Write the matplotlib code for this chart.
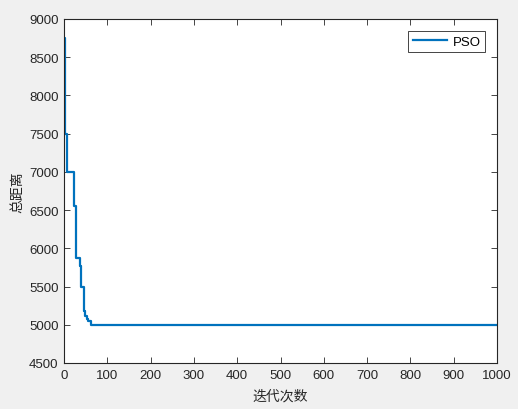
import matplotlib
matplotlib.use("Agg")
import matplotlib.pyplot as plt

# Breakpoints of the best-so-far total distance (step curve)
iters = [1, 2, 3, 7, 22, 23, 27, 36, 40, 46, 48, 52, 56, 62, 1000]
dist = [8750, 8050, 7500, 7000, 6800, 6550, 5880, 5770, 5490, 5180, 5120, 5070, 5050, 5000, 5000]
xticks = list(range(0, 1001, 100))
yticks = list(range(4500, 9001, 500))

plt.rcParams['font.family'] = ['Liberation Sans', 'DejaVu Sans']

fig = plt.figure(figsize=(5.18, 4.10), dpi=100, facecolor='#f0f0f0')
ax = fig.add_axes([64/518, 1-364/410, (497-64)/518, (364-20)/410])
ax.set_facecolor('white')
ax.plot(iters, dist, drawstyle='steps-post', color='#0072BD', lw=1.6, label='PSO')
ax.set_xlim(0, 1000)
ax.set_ylim(4500, 9000)
ax.set_xticks(xticks)
ax.set_yticks(yticks)
ax.tick_params(direction='in', top=True, right=True, length=4, width=0.6,
               colors='#262626', labelsize=9.5, pad=4)
for s in ax.spines.values():
    s.set_linewidth(0.8)
    s.set_color('#262626')
cjk = ['Noto Sans CJK SC', 'DejaVu Sans']
ax.set_xlabel('迭代次数', family=cjk, fontsize=10, color='#262626', labelpad=6)
ax.set_ylabel('总距离', family=cjk, fontsize=10, color='#262626', labelpad=3)
leg = ax.legend(loc='upper right', fontsize=9.5, fancybox=False, framealpha=1,
                edgecolor='#262626', handlelength=2.6, borderaxespad=0.9,
                borderpad=0.35, handletextpad=0.4)
leg.get_frame().set_linewidth(0.6)
fig.savefig('out.png', dpi=100, facecolor=fig.get_facecolor())
